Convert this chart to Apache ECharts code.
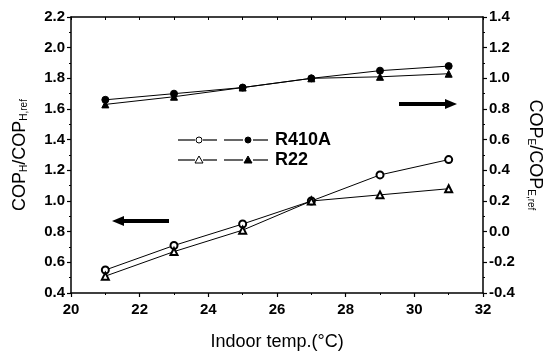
<!DOCTYPE html>
<html>
<head>
<meta charset="utf-8">
<script src="https://cdn.jsdelivr.net/npm/echarts@6/dist/echarts.min.js"></script>
<style>
  html, body { margin: 0; padding: 0; background: #fff; }
  #chart { width: 549px; height: 353px; }
</style>
</head>
<body>
<div id="chart"></div>
<script>
// Indoor temperature (°C)
const indoorTemp = [21, 23, 25, 27, 29, 31];

// Heating COP ratio (left axis, open symbols)
const heatR410A = [0.55, 0.71, 0.85, 1.00, 1.17, 1.27];
const heatR22   = [0.51, 0.67, 0.81, 1.00, 1.04, 1.08];

// Cooling COP ratio (right axis, filled symbols)
const coolR410A = [0.86, 0.90, 0.94, 1.00, 1.05, 1.08];
const coolR22   = [0.83, 0.88, 0.94, 1.00, 1.01, 1.03];

const legendNames = ['R410A', 'R22'];

const FONT = '"Liberation Sans", Arial, sans-serif';
const INK = '#000';

const pairs = (xs, ys) => xs.map((x, i) => [x, ys[i]]);
const fmt1 = v => { const r = Math.round(v * 10) / 10; return (r === 0 ? 0 : r).toFixed(1); };

const tickLabel = { color: INK, fontFamily: FONT, fontWeight: 'bold', fontSize: 15 };
const nameStyle = {
  color: INK, fontFamily: FONT, fontSize: 18,
  rich: {
    a: { fontFamily: FONT, fontSize: 18, color: INK },
    s: { fontFamily: FONT, fontSize: 10, color: INK, verticalAlign: 'bottom', padding: [8, 0, 0, 0] }
  }
};

function lineSeries(name, yAxisIndex, symbol, ys) {
  return {
    name, type: 'line', xAxisIndex: 0, yAxisIndex,
    data: pairs(indoorTemp, ys),
    symbol, symbolSize: 7, showSymbol: true,
    lineStyle: { color: INK, width: 1 },
    itemStyle: { color: INK, borderColor: INK, borderWidth: 1 },
    emphasis: { disabled: true },
    z: 3
  };
}

// Hand-drawn style legend: open symbol, dashes, filled symbol, label
function legendRow(y, shapeOpen, shapeFilled, label) {
  const seg = (x1, x2) => ({ type: 'line', shape: { x1, y1: y, x2, y2: y }, style: { stroke: INK, lineWidth: 1.2 } });
  return [
    seg(178, 195), seg(203, 217), seg(224, 243), seg(253, 268),
    shapeOpen, shapeFilled,
    { type: 'text', x: 275, y, style: { text: label, font: 'bold 18px ' + FONT, fill: INK, verticalAlign: 'middle' } }
  ];
}
const circ = (cx, cy, filled) => ({ type: 'circle', shape: { cx, cy, r: 3 }, style: { fill: filled ? INK : '#fff', stroke: INK, lineWidth: 1 } });
const tri = (cx, cy, filled) => ({ type: 'polygon', shape: { points: [[cx, cy - 4], [cx - 4, cy + 3], [cx + 4, cy + 3]] }, style: { fill: filled ? INK : '#fff', stroke: INK, lineWidth: 1 } });

function arrow(xTail, xHead, y) {
  const dir = xHead > xTail ? 1 : -1;
  const base = xHead - dir * 12;
  return [
    { type: 'rect', shape: { x: Math.min(xTail, base), y: y - 2, width: Math.abs(base - xTail), height: 4 }, style: { fill: INK } },
    { type: 'polygon', shape: { points: [[xHead, y], [base, y - 5], [base, y + 5]] }, style: { fill: INK } }
  ];
}

const chart = echarts.init(document.getElementById('chart'), null, { renderer: 'canvas' });
chart.setOption({
  animation: false,
  backgroundColor: '#fff',
  grid: { left: 71, right: 66, top: 17, bottom: 60, containLabel: false, outerBoundsMode: 'none' },
  xAxis: [
    {
      type: 'value', position: 'bottom', min: 20, max: 32, interval: 2,
      axisLine: { onZero: false, lineStyle: { color: INK, width: 1.5 } },
      axisTick: { show: true, length: 4, lineStyle: { color: INK, width: 1.2 } },
      minorTick: { show: true, splitNumber: 2, length: 2, lineStyle: { color: INK, width: 1 } },
      axisLabel: Object.assign({ margin: 9 }, tickLabel),
      splitLine: { show: false },
      name: 'Indoor temp.(°C)', nameLocation: 'middle', nameGap: 40,
      nameTextStyle: { color: INK, fontFamily: FONT, fontSize: 18 }
    },
    {
      type: 'value', position: 'top', min: 20, max: 32, interval: 1,
      axisLine: { onZero: false, lineStyle: { color: INK, width: 1.5 } },
      axisTick: { show: true, inside: true, length: 3, lineStyle: { color: INK, width: 1 } },
      axisLabel: { show: false }, splitLine: { show: false }
    }
  ],
  yAxis: [
    {
      type: 'value', position: 'left', min: 0.4, max: 2.2, interval: 0.2,
      axisLine: { show: true, onZero: false, lineStyle: { color: INK, width: 1.5 } },
      axisTick: { show: true, length: 4, lineStyle: { color: INK, width: 1.2 } },
      minorTick: { show: true, splitNumber: 2, length: 2, lineStyle: { color: INK, width: 1 } },
      axisLabel: Object.assign({ margin: 6, formatter: fmt1 }, tickLabel),
      splitLine: { show: false },
      name: '{a|COP}{s|H}{a|/COP}{s|H,ref}', nameLocation: 'middle', nameGap: 42,
      nameTextStyle: nameStyle
    },
    {
      type: 'value', position: 'right', min: -0.4, max: 1.4, interval: 0.2,
      axisLine: { show: true, onZero: false, lineStyle: { color: INK, width: 1.5 } },
      axisTick: { show: true, length: 4, lineStyle: { color: INK, width: 1.2 } },
      minorTick: { show: true, splitNumber: 2, length: 2, lineStyle: { color: INK, width: 1 } },
      axisLabel: Object.assign({ margin: 6, formatter: fmt1 }, tickLabel),
      splitLine: { show: false },
      name: '{a|COP}{s|E}{a|/COP}{s|E,ref}', nameLocation: 'middle', nameGap: 40, nameRotate: -90,
      nameTextStyle: nameStyle
    }
  ],
  series: [
    lineSeries(legendNames[0] + ' heating', 0, 'emptyCircle', heatR410A),
    lineSeries(legendNames[1] + ' heating', 0, 'emptyTriangle', heatR22),
    lineSeries(legendNames[0] + ' cooling', 1, 'circle', coolR410A),
    lineSeries(legendNames[1] + ' cooling', 1, 'triangle', coolR22)
  ],
  graphic: [].concat(
    legendRow(140, circ(199, 140, false), circ(248, 140, true), legendNames[0]),
    legendRow(160, tri(199, 160, false), tri(248, 160, true), legendNames[1]),
    arrow(169, 112, 221),
    arrow(399, 457, 104)
  )
});
</script>
</body>
</html>
